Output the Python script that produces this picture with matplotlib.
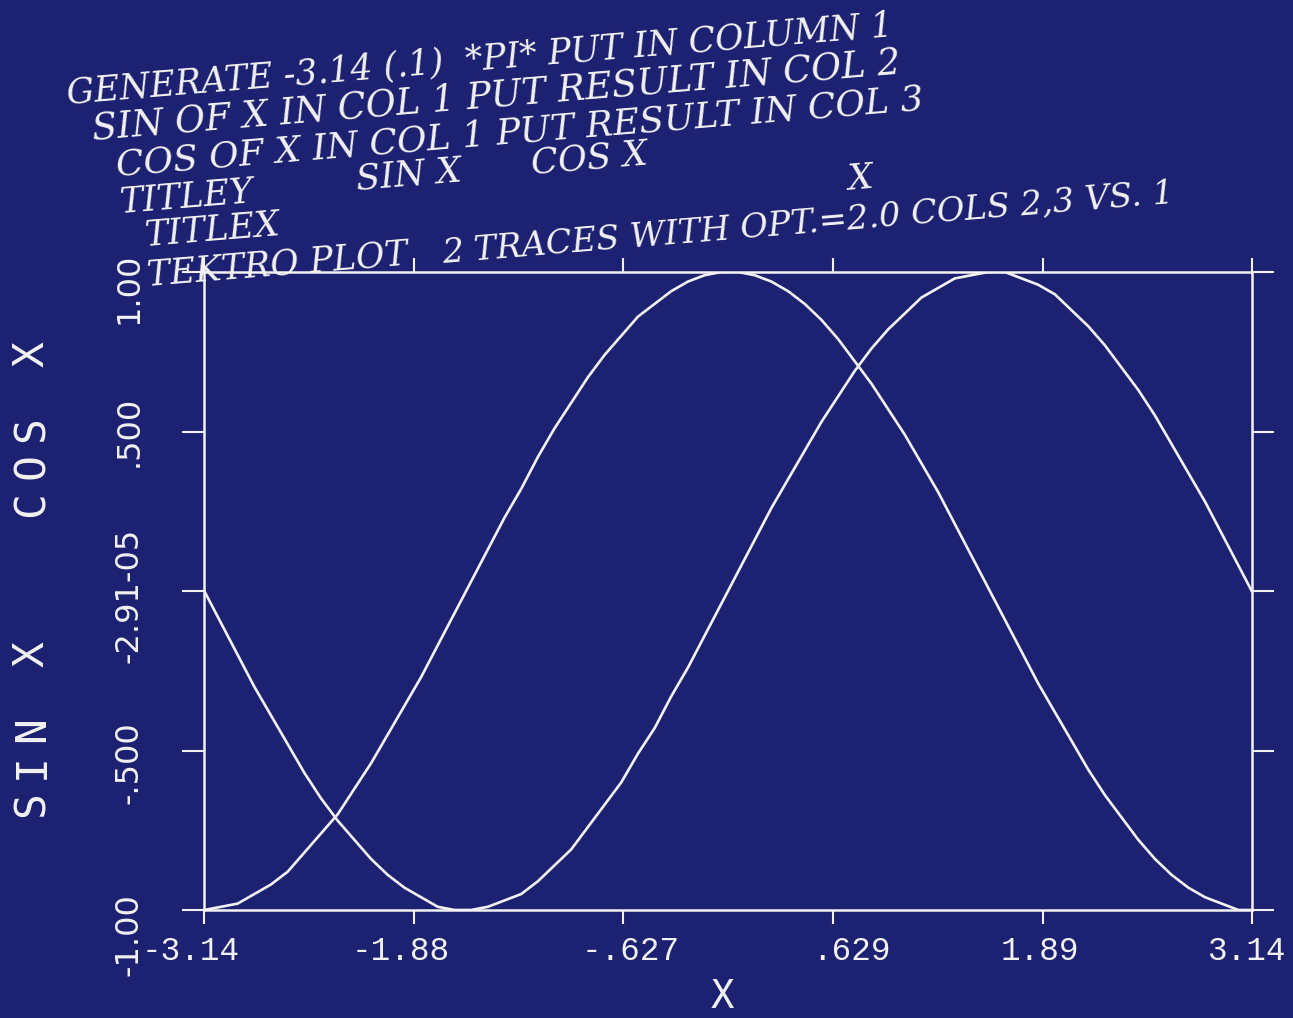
import matplotlib
matplotlib.use("Agg")
import matplotlib.pyplot as plt
from matplotlib.transforms import ScaledTranslation

# column 1: x, column 2: sin x, column 3: cos x
x = [-3.14, -3.04, -2.94, -2.84, -2.74, -2.64, -2.54, -2.44, -2.34, -2.24,
     -2.14, -2.04, -1.94, -1.84, -1.74, -1.64, -1.54, -1.44, -1.34, -1.24,
     -1.14, -1.04, -0.94, -0.84, -0.74, -0.64, -0.54, -0.44, -0.34, -0.24,
     -0.14, -0.04, 0.06, 0.16, 0.26, 0.36, 0.46, 0.56, 0.66, 0.76,
     0.86, 0.96, 1.06, 1.16, 1.26, 1.36, 1.46, 1.56, 1.66, 1.76,
     1.86, 1.96, 2.06, 2.16, 2.26, 2.36, 2.46, 2.56, 2.66, 2.76,
     2.86, 2.96, 3.06, 3.14]
sin_x = [0.00, -0.10, -0.20, -0.30, -0.39, -0.48, -0.57, -0.65, -0.72, -0.78,
         -0.84, -0.89, -0.93, -0.96, -0.99, -1.00, -1.00, -0.99, -0.97, -0.95,
         -0.91, -0.86, -0.81, -0.74, -0.67, -0.60, -0.51, -0.43, -0.33, -0.24,
         -0.14, -0.04, 0.06, 0.16, 0.26, 0.35, 0.44, 0.53, 0.61, 0.69,
         0.76, 0.82, 0.87, 0.92, 0.95, 0.98, 0.99, 1.00, 1.00, 0.98,
         0.96, 0.93, 0.88, 0.83, 0.77, 0.70, 0.63, 0.55, 0.46, 0.37,
         0.28, 0.18, 0.08, 0.00]
cos_x = [-1.00, -0.99, -0.98, -0.95, -0.92, -0.88, -0.82, -0.76, -0.70, -0.62,
         -0.54, -0.45, -0.36, -0.27, -0.17, -0.07, 0.03, 0.13, 0.23, 0.32,
         0.42, 0.51, 0.59, 0.67, 0.74, 0.80, 0.86, 0.90, 0.94, 0.97,
         0.99, 1.00, 1.00, 0.99, 0.97, 0.94, 0.90, 0.85, 0.79, 0.72,
         0.65, 0.57, 0.49, 0.40, 0.31, 0.21, 0.11, 0.01, -0.09, -0.19,
         -0.29, -0.38, -0.47, -0.56, -0.64, -0.71, -0.78, -0.84, -0.89, -0.93,
         -0.96, -0.98, -1.00, -1.00]

xticks = [-3.14, -1.88, -0.627, 0.629, 1.89, 3.14]
xtick_labels = ["-3.14", "-1.88", "-.627", ".629", "1.89", "3.14"]
yticks = [1.0, 0.5, 0.0, -0.5, -1.0]
ytick_labels = ["1.00", ".500", "-2.91-05", "-.500", "-1.00"]
ylabel = "SIN X   COS X"
xlabel = "X"

# text, left x, baseline y (pixels), font size
header = [
    ("GENERATE -3.14 (.1)  *PI* PUT IN COLUMN 1", 68, 103, 25),
    ("SIN OF X IN COL 1 PUT RESULT IN COL 2", 93, 140, 26.5),
    ("COS OF X IN COL 1 PUT RESULT IN COL 3", 117, 176, 26),
    ("TITLEY", 120, 213, 25.5),
    ("SIN X", 357, 190, 25.5),
    ("COS X", 532, 174, 25.5),
    ("TITLEX", 145, 246, 25.5),
    ("X", 848, 190, 25.5),
    ("TEKTRO PLOT", 148, 286, 25),
    ("2 TRACES WITH OPT.=2.0 COLS 2,3 VS. 1", 443, 263, 24.3),
]

W, H = 1293, 1018
BG = "#1d2171"
FG = "#f2f2f2"

fig = plt.figure(figsize=(W / 100, H / 100), dpi=100, facecolor=BG)
ax = fig.add_axes([204 / W, 1 - 910 / H, 1048 / W, 638 / H], facecolor=BG)

ax.plot(x, sin_x, color=FG, lw=1.9)
ax.plot(x, cos_x, color=FG, lw=1.9)

ax.set_xlim(-3.1416, 3.1416)
ax.set_ylim(-1.0, 1.0)
for s in ax.spines.values():
    s.set_color(FG)
    s.set_linewidth(1.8)

ax.set_xticks(xticks)
ax.set_xticklabels(xtick_labels, family=["Liberation Mono", "DejaVu Sans Mono"],
                   fontsize=23.5, color=FG)
ax.set_yticks(yticks)
ax.set_yticklabels(ytick_labels, family=["Liberation Sans Narrow", "DejaVu Sans"],
                   fontsize=23, color=FG, rotation=90, va="center")
ax.tick_params(axis="x", which="both", direction="out", color=FG, width=1.5,
               length=10, pad=9, top=True)
ax.tick_params(axis="y", which="both", direction="out", color=FG, width=1.5,
               length=16, pad=27, right=True)

# the plotter did not centre its labels exactly; nudge them like the original
for lab, dx in zip(ax.get_xticklabels(), [-14, -14, 7, 18, -3, -5]):
    lab.set_transform(lab.get_transform() + ScaledTranslation(dx / 100, 0, fig.dpi_scale_trans))
for lab, dy in zip(ax.get_yticklabels(), [16, 0, 4, 12, 25]):
    lab.set_transform(lab.get_transform() + ScaledTranslation(0, -dy / 100, fig.dpi_scale_trans))

fig.text(722 / W, 1 - 997 / H, xlabel, family="DejaVu Sans Mono", fontsize=28,
         color=FG, ha="center", va="center")

# y title: fixed-pitch plotter lettering, one cell per character
pitch = 37.5
y0 = 804
for i, ch in enumerate(ylabel):
    if ch != " ":
        fig.text(32 / W, 1 - (y0 - i * pitch) / H, ch, family="DejaVu Sans Mono",
                 fontsize=31, color=FG, ha="center", va="center", rotation=90)

for txt, px, py, fs in header:
    fig.text(px / W, 1 - py / H, txt, family="DejaVu Serif", style="italic",
             fontsize=fs, color=FG, ha="left", va="baseline",
             rotation=4.7, rotation_mode="anchor")

fig.savefig("out.png", dpi=100, facecolor=BG)
